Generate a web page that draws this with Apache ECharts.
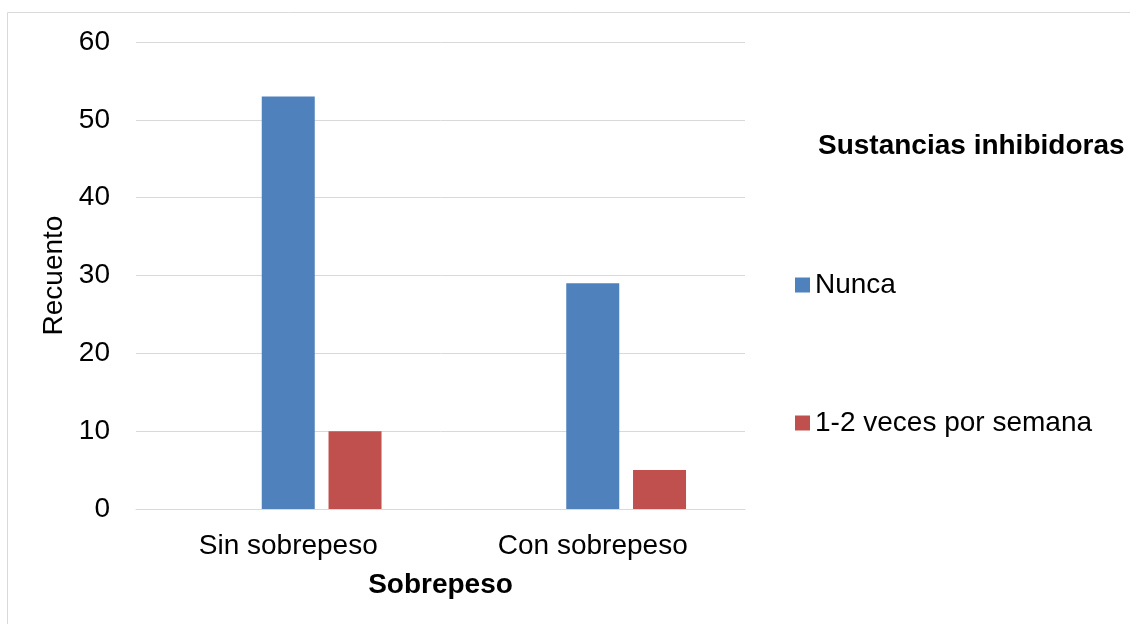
<!DOCTYPE html>
<html>
<head>
<meta charset="utf-8">
<script src="https://cdn.jsdelivr.net/npm/echarts@6/dist/echarts.min.js"></script>
<style>
html,body{margin:0;padding:0;background:#fff;}
#chart{width:1130px;height:624px;}
</style>
</head>
<body>
<div id="chart"></div>
<script>
const categories = ['Sin sobrepeso', 'Con sobrepeso'];
const nunca = [53, 29];
const veces = [10, 5];
const emptySeries = [null, null];
const yTicks = { min: 0, max: 60, interval: 10 };

const chart = echarts.init(document.getElementById('chart'), null, { renderer: 'canvas' });
const font = 'Liberation Sans, Arial, sans-serif';
const FS = 28;
chart.setOption({
  animation: false,
  backgroundColor: '#fff',
  graphic: [{
    type: 'rect',
    shape: { x: 7.5, y: 12.5, width: 1200, height: 700 },
    style: { fill: 'none', stroke: '#d9d9d9', lineWidth: 1 },
    silent: true
  }],
  title: {
    text: 'Sustancias inhibidoras',
    left: 813, top: 127,
    textStyle: { fontFamily: font, fontSize: FS, fontWeight: 'bold', color: '#000' }
  },
  legend: {
    orient: 'vertical',
    left: 790, top: 266,
    itemWidth: 15, itemHeight: 15,
    itemGap: 110,
    icon: 'rect',
    data: ['Nunca', '1-2 veces por semana'],
    textStyle: { fontFamily: font, fontSize: FS, color: '#000' }
  },
  grid: { left: 136, right: 385, top: 42, bottom: 115, containLabel: false },
  xAxis: {
    type: 'category',
    data: categories,
    name: 'Sobrepeso',
    nameLocation: 'middle',
    nameGap: 62,
    nameTextStyle: { fontFamily: font, fontSize: FS, fontWeight: 'bold', color: '#000' },
    axisLine: { show: true, lineStyle: { color: '#d9d9d9', width: 1 } },
    axisTick: { show: false },
    axisLabel: { fontFamily: font, fontSize: FS, color: '#000', margin: 23 }
  },
  yAxis: {
    type: 'value',
    min: yTicks.min, max: yTicks.max, interval: yTicks.interval,
    name: 'Recuento',
    nameLocation: 'middle',
    nameGap: 65,
    nameTextStyle: { fontFamily: font, fontSize: FS, color: '#000' },
    axisLine: { show: false },
    axisTick: { show: false },
    axisLabel: { fontFamily: font, fontSize: FS, color: '#000', margin: 26, padding: [4, 0, 0, 0] },
    splitLine: { lineStyle: { color: '#d9d9d9', width: 1 } }
  },
  series: [
    { name: '', type: 'bar', data: emptySeries, barWidth: 53, barGap: '26%' },
    { name: 'Nunca', type: 'bar', data: nunca, barWidth: 53, barGap: '26%',
      itemStyle: { color: '#4f81bd' } },
    { name: '1-2 veces por semana', type: 'bar', data: veces, barWidth: 53, barGap: '26%',
      itemStyle: { color: '#c0504d' } }
  ]
});
</script>
</body>
</html>
